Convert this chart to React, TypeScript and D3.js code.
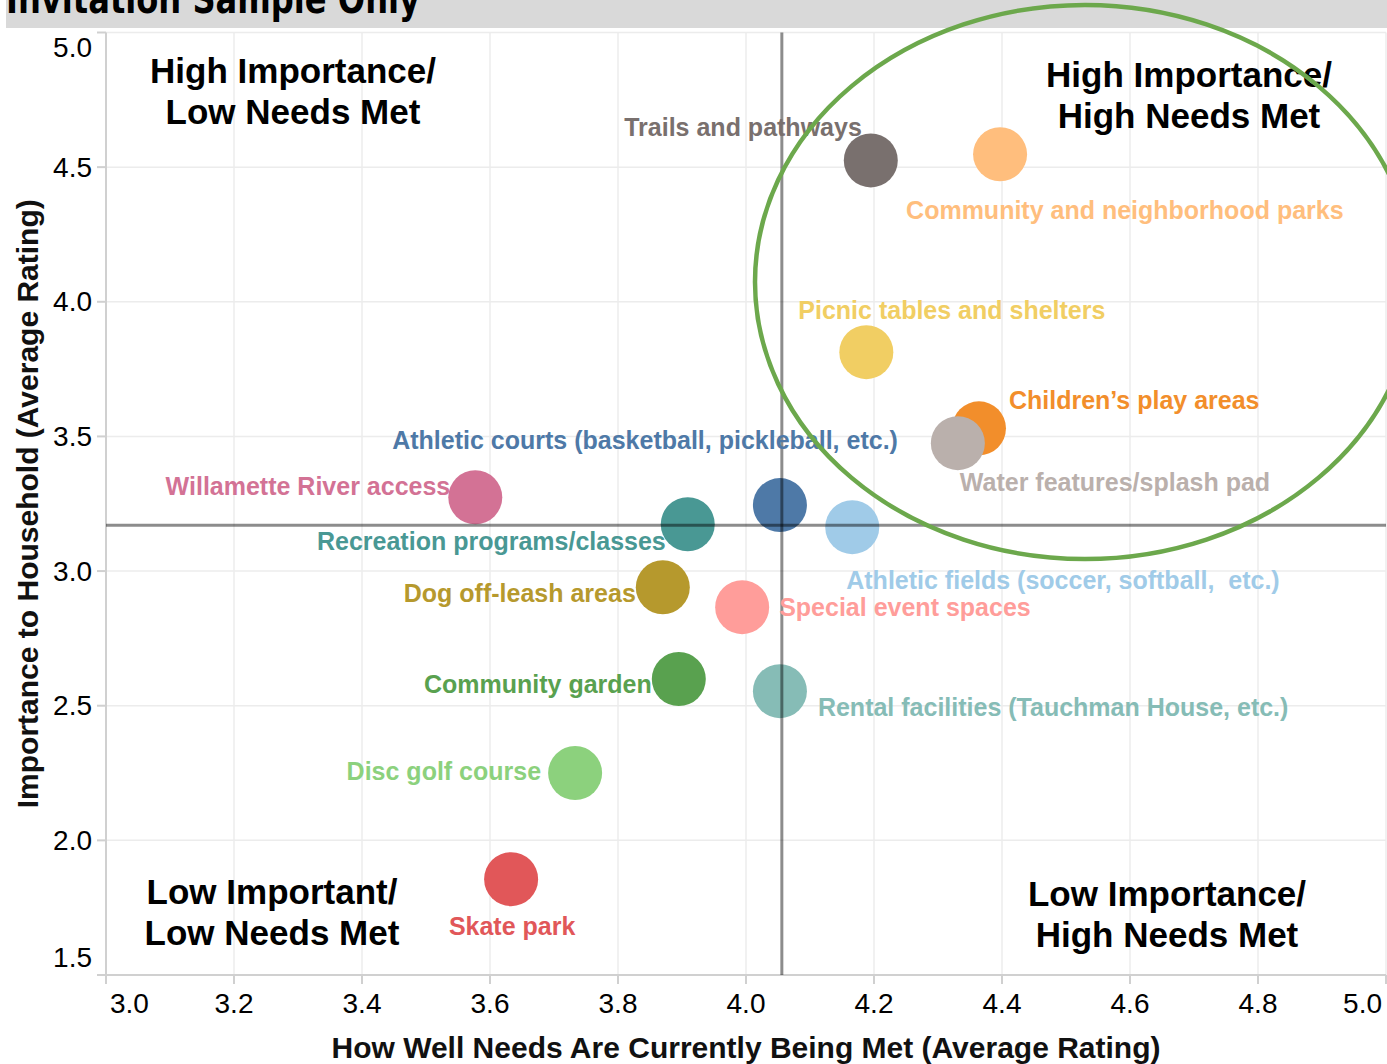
import React from "react";
import * as d3 from "d3";

// ---- data ----
const amenities = [
  "Trails and pathways",
  "Community and neighborhood parks",
  "Picnic tables and shelters",
  "Children\u2019s play areas",
  "Water features/splash pad",
  "Athletic courts (basketball, pickleball, etc.)",
  "Athletic fields (soccer, softball,  etc.)",
  "Willamette River access",
  "Recreation programs/classes",
  "Dog off-leash areas",
  "Special event spaces",
  "Community garden",
  "Rental facilities (Tauchman House, etc.)",
  "Disc golf course",
  "Skate park",
];
const needsMet = [4.195, 4.397, 4.188, 4.364, 4.331, 4.053, 4.166, 3.577, 3.909, 3.87, 3.994, 3.895, 4.053, 3.733, 3.633];
const importance = [4.525, 4.548, 3.813, 3.53, 3.475, 3.245, 3.163, 3.274, 3.174, 2.94, 2.866, 2.599, 2.554, 2.25, 1.856];
const colors = [
  "#79706e", "#ffbe7d", "#f1ce63", "#f28e2b", "#bab0ac", "#4e79a7", "#a0cbe8",
  "#d37295", "#499894", "#b6992d", "#ff9d9a", "#59a14f", "#86bcb6", "#8cd17d", "#e15759",
];
const xTicks = [3.0, 3.2, 3.4, 3.6, 3.8, 4.0, 4.2, 4.4, 4.6, 4.8, 5.0];
const yTicks = [1.5, 2.0, 2.5, 3.0, 3.5, 4.0, 4.5, 5.0];
const refNeedsMet = 4.056;
const refImportance = 3.17;
const quadrantLabels = [
  ["High Importance/", "Low Needs Met"],
  ["High Importance/", "High Needs Met"],
  ["Low Important/", "Low Needs Met"],
  ["Low Importance/", "High Needs Met"],
];
const bannerText = "Invitation Sample Only";
const xTitle = "How Well Needs Are Currently Being Met (Average Rating)";
const yTitle = "Importance to Household (Average Rating)";

// ---- layout / style (not data) ----
const W = 1387;
const H = 1064;
const plot = { left: 106, right: 1386, top: 32.5, bottom: 975 };
const labelPlacement: { anchor: string; dx: number; dy: number }[] = [
  { anchor: "end", dx: -9, dy: -33 },
  { anchor: "start", dx: -94, dy: 56 },
  { anchor: "start", dx: -68, dy: -42 },
  { anchor: "start", dx: 30, dy: -28 },
  { anchor: "start", dx: 2, dy: 39 },
  { anchor: "end", dx: 118, dy: -65 },
  { anchor: "start", dx: -6, dy: 53 },
  { anchor: "end", dx: -25, dy: -11 },
  { anchor: "end", dx: -22, dy: 17 },
  { anchor: "end", dx: -27, dy: 6 },
  { anchor: "start", dx: 37, dy: 0 },
  { anchor: "end", dx: -27, dy: 5 },
  { anchor: "start", dx: 38, dy: 16 },
  { anchor: "end", dx: -34, dy: -2 },
  { anchor: "middle", dx: 1, dy: 47 },
];
const quadrantPos = [
  { x: 293, y: 70 },
  { x: 1189, y: 74 },
  { x: 272, y: 891 },
  { x: 1167, y: 893 },
];
const FONT = "'Liberation Sans', Arial, sans-serif";

export default function App() {
  const x = d3.scaleLinear().domain([3, 5]).range([plot.left, plot.right]);
  const y = d3.scaleLinear().domain([1.5, 5]).range([plot.bottom, plot.top]);
  const r = 27;

  return (
    <svg
      width={W}
      height={H}
      viewBox={`0 0 ${W} ${H}`}
      style={{ position: "absolute", left: 0, top: 0, background: "#fff" }}
      fontFamily={FONT}
    >
      <defs>
        <clipPath id="bannerClip">
          <rect x={6} y={0} width={W - 6} height={28} />
        </clipPath>
      </defs>
      {/* banner */}
      <rect x={6} y={0} width={W - 6} height={28} fill="#d9d9d9" />
      <g clipPath="url(#bannerClip)">
        <text x={6} y={13} fontSize={40} fontWeight="bold" fill="#000" fontFamily="'DejaVu Sans', sans-serif" textLength={414} lengthAdjust="spacingAndGlyphs">
          {bannerText}
        </text>
      </g>

      {/* grid */}
      <g stroke="#ececec" strokeWidth={1.5}>
        {xTicks.map((t) => (
          <line key={"gx" + t} x1={x(t)} x2={x(t)} y1={plot.top} y2={plot.bottom} />
        ))}
        {yTicks.map((t) => (
          <line key={"gy" + t} x1={plot.left} x2={plot.right} y1={y(t)} y2={y(t)} />
        ))}
      </g>

      {/* axes */}
      <g stroke="#d0d0d0" strokeWidth={2}>
        <line x1={plot.left} x2={plot.left} y1={plot.top} y2={plot.bottom} />
        <line x1={plot.left - 9} x2={plot.right} y1={plot.bottom} y2={plot.bottom} />
        {xTicks.map((t) => (
          <line key={"tx" + t} x1={x(t)} x2={x(t)} y1={plot.bottom} y2={plot.bottom + 9} />
        ))}
        {yTicks.map((t) => (
          <line key={"ty" + t} x1={plot.left - 9} x2={plot.left} y1={y(t)} y2={y(t)} />
        ))}
      </g>
      <g fontSize={28} fill="#000">
        {xTicks.map((t, i) => {
          const anchor = i === 0 ? "start" : i === xTicks.length - 1 ? "end" : "middle";
          const off = i === 0 ? 4 : i === xTicks.length - 1 ? -4 : 0;
          return (
            <text key={"lx" + t} x={x(t) + off} y={plot.bottom + 38} textAnchor={anchor}>
              {d3.format(".1f")(t)}
            </text>
          );
        })}
        {yTicks.map((t, i) => {
          const dyOff = i === 0 ? -18 : i === yTicks.length - 1 ? 15 : 0;
          return (
            <text key={"ly" + t} x={plot.left - 14} y={y(t) + dyOff} textAnchor="end" dominantBaseline="central">
              {d3.format(".1f")(t)}
            </text>
          );
        })}
      </g>
      <text x={(plot.left + plot.right) / 2} y={1058} textAnchor="middle" fontSize={30} fontWeight="bold" fill="#111">
        {xTitle}
      </text>
      <text
        transform={`translate(38, ${(plot.top + plot.bottom) / 2}) rotate(-90)`}
        textAnchor="middle"
        fontSize={30}
        fontWeight="bold"
        fill="#111"
      >
        {yTitle}
      </text>

      {/* quadrant labels */}
      <g fontSize={35} fontWeight="bold" fill="#000" textAnchor="middle">
        {quadrantLabels.map((lines, i) => (
          <text key={"q" + i} x={quadrantPos[i].x} y={quadrantPos[i].y} dominantBaseline="central">
            {lines.map((ln, j) => (
              <tspan key={j} x={quadrantPos[i].x} dy={j === 0 ? 0 : 41}>
                {ln}
              </tspan>
            ))}
          </text>
        ))}
      </g>

      {/* points */}
      <g>
        {amenities.map((a, i) => (
          <circle key={"c" + i} cx={x(needsMet[i])} cy={y(importance[i])} r={r} fill={colors[i]} />
        ))}
      </g>

      {/* reference lines */}
      <g stroke="#000" strokeOpacity={0.45} strokeWidth={3}>
        <line x1={x(refNeedsMet)} x2={x(refNeedsMet)} y1={plot.top} y2={plot.bottom} />
        <line x1={plot.left} x2={plot.right} y1={y(refImportance)} y2={y(refImportance)} />
      </g>

      {/* point labels */}
      <g fontSize={25} fontWeight="bold" style={{ whiteSpace: "pre" }}>
        {amenities.map((a, i) => (
          <text
            key={"t" + i}
            x={x(needsMet[i]) + labelPlacement[i].dx}
            y={y(importance[i]) + labelPlacement[i].dy}
            textAnchor={labelPlacement[i].anchor}
            dominantBaseline="central"
            fill={colors[i]}
            style={{ whiteSpace: "pre" }}
          >
            {a}
          </text>
        ))}
      </g>

      {/* highlight ellipse */}
      <ellipse cx={1085} cy={282} rx={330} ry={277} fill="none" stroke="#6ca84c" strokeWidth={4.5} />
    </svg>
  );
}
